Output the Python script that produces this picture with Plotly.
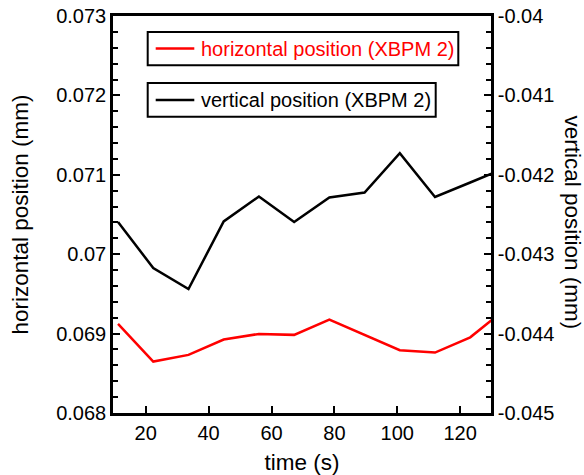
import plotly.graph_objects as go

# Beam position monitor readings (XBPM 2) versus time
time_s = [11.2, 22.4, 33.6, 44.8, 56.0, 67.2, 78.4, 89.6, 100.8, 112.0, 123.2, 134.4]
horizontal_mm = [0.069122, 0.068648, 0.068732, 0.068925, 0.068996, 0.068984,
                 0.069176, 0.068982, 0.068790, 0.068761, 0.068953, 0.069311]
vertical_mm = [-0.042595, -0.043174, -0.043438, -0.042587, -0.042273, -0.042595,
               -0.042286, -0.042223, -0.041727, -0.042280, -0.042097, -0.041911]

left_ticks = [0.068, 0.069, 0.070, 0.071, 0.072, 0.073]
left_labels = ["0.068", "0.069", "0.07", "0.071", "0.072", "0.073"]
right_ticks = [-0.045, -0.044, -0.043, -0.042, -0.041, -0.040]
right_labels = ["-0.045", "-0.044", "-0.043", "-0.042", "-0.041", "-0.04"]
x_ticks = [20, 40, 60, 80, 100, 120]

series_names = ["horizontal position (XBPM 2)", "vertical position (XBPM 2)"]
series_colors = ["#ff0000", "#000000"]

FONT = "Liberation Sans, Arial, sans-serif"
TICK_FS = 20
TITLE_FS = 22.5
LEGEND_FS = 20

W, H = 584, 475
ML, MR, MT, MB = 113, 93, 16, 61.5
PW, PH = W - ML - MR, H - MT - MB


def px_x(p):
    """Page pixel column -> paper x."""
    return (p - ML) / PW


def px_y(p):
    """Page pixel row -> paper y."""
    return 1 - (p - MT) / PH


fig = go.Figure()
fig.add_trace(go.Scatter(
    x=time_s, y=horizontal_mm, mode="lines", name=series_names[0],
    line=dict(color=series_colors[0], width=2.5), yaxis="y", showlegend=False,
))
fig.add_trace(go.Scatter(
    x=time_s, y=vertical_mm, mode="lines", name=series_names[1],
    line=dict(color=series_colors[1], width=2.5), yaxis="y2", showlegend=False,
))

axis_common = dict(
    showgrid=False, zeroline=False, showline=True, linecolor="black",
    linewidth=2.5, ticks="inside", tickcolor="black", tickwidth=2,
    ticklen=7, tickfont=dict(family=FONT, size=TICK_FS, color="black"),
    automargin=False,
)
minor_ticks = dict(dtick=0.0002, ticks="inside", ticklen=5, tickwidth=2,
                   tickcolor="black", showgrid=False)

# Boxed key entries: (left, top, right, bottom) of each frame in page pixels
key_frames = [(147.7, 32, 458.3, 65.3), (147.7, 83, 435.7, 117)]
shapes, annotations = [], []
for name, color, (l, t, r, b) in zip(series_names, series_colors, key_frames):
    cy = (t + b) / 2
    shapes.append(dict(type="rect", xref="paper", yref="paper",
                       x0=px_x(l), x1=px_x(r), y0=px_y(b), y1=px_y(t),
                       line=dict(color="black", width=2), fillcolor="white",
                       layer="above"))
    shapes.append(dict(type="line", xref="paper", yref="paper",
                       x0=px_x(l + 8), x1=px_x(l + 46.6), y0=px_y(cy), y1=px_y(cy),
                       line=dict(color=color, width=2.5), layer="above"))
    annotations.append(dict(text=name, xref="paper", yref="paper",
                            x=px_x(l + 51.3), y=px_y(cy), xanchor="left",
                            yanchor="middle", showarrow=False,
                            font=dict(family=FONT, size=LEGEND_FS, color=color)))

annotations.append(dict(
    text="vertical position (mm)", xref="paper", yref="paper",
    x=1.0, xshift=82, xanchor="center", y=0.48, yanchor="middle",
    textangle=90, showarrow=False,
    font=dict(family=FONT, size=TITLE_FS, color="black"),
))

fig.update_layout(
    width=W, height=H,
    margin=dict(l=ML, r=MR, t=MT, b=MB),
    plot_bgcolor="white", paper_bgcolor="white",
    font=dict(family=FONT, size=TICK_FS, color="black"),
    xaxis=dict(
        range=[9.6, 129.8], tickvals=x_ticks, mirror=True,
        title=dict(text="time (s)", font=dict(family=FONT, size=TITLE_FS), standoff=12),
        **axis_common,
    ),
    yaxis=dict(
        range=[0.068, 0.073], tickvals=left_ticks, ticktext=left_labels,
        minor=minor_ticks,
        title=dict(text="horizontal position (mm)", font=dict(family=FONT, size=TITLE_FS),
                   standoff=22),
        **axis_common,
    ),
    yaxis2=dict(
        range=[-0.045, -0.040], tickvals=right_ticks, ticktext=right_labels,
        overlaying="y", side="right", minor=minor_ticks,
        **axis_common,
    ),
    shapes=shapes,
    annotations=annotations,
)

fig.write_html("out.html")
